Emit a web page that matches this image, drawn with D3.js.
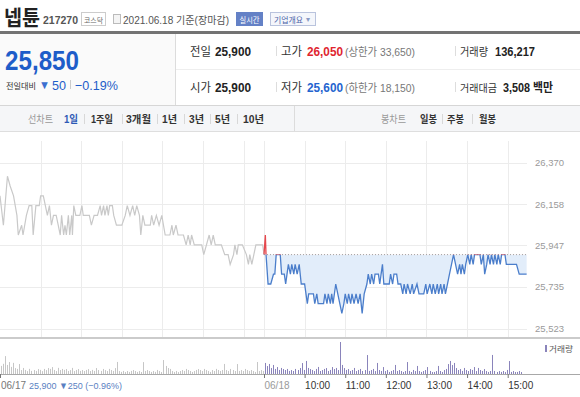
<!DOCTYPE html>
<html><head><meta charset="utf-8">
<script src="https://cdn.jsdelivr.net/npm/d3@7"></script>
<style>
html,body{margin:0;padding:0;background:#fff;}
svg{display:block;font-family:"Liberation Sans","Noto Sans CJK KR",sans-serif;}
</style></head><body>
<svg id="c" width="580" height="397"></svg>
<script>
// ---------- data ----------
const refPrice = 25900;                       // 06/17 close (기준가)
const yTicks = [25523, 25735, 25947, 26158, 26370];
const gridMinutes = [60,120,180,240,300,360,390,450,510,570,630,690,750]; // minutes since 06/17 09:00
const timeTicks = [0,390,450,510,570,630,690,750];
const timeLabels = ["","06/18","10:00","11:00","12:00","13:00","14:00","15:00"];
const sessionLength = 390;

// 06/17 (minutes after 09:00, price)
const prevMinute = [0,5,11,15,20,25,27,32,34,39,43,47,49,53,58,60,64,67,70,73,76,79,83,86,89,91,94,96,98,101,103,106,107,109,112,118,121,123,132,135,139,144,148,150,153,155,158,160,162,166,168,172,180,185,188,192,196,199,202,206,208,211,214,222,224,227,231,235,239,244,251,254,256,260,263,271,275,278,281,283,287,298,301,305,309,312,315,318,327,332,337,340,345,347,350,352,358,364,367,369,372,375,378,388,390];
const prevPrice = [26200,26050,26300,26250,26200,26100,26000,26050,26000,26100,26150,26150,26000,26150,26150,26200,26200,26150,26100,26150,26050,26100,26100,26050,26000,26100,26000,26050,26000,26100,26000,26100,26000,26150,26100,26100,26150,26100,26100,26050,26100,26100,26150,26100,26150,26100,26150,26100,26150,26150,26100,26050,26050,26100,26150,26100,26150,26100,26150,26100,26000,26100,26050,26050,26100,26050,26100,26050,26100,26000,26000,26050,26000,26050,26000,26000,25950,26000,25950,26000,25950,25950,25900,25950,26000,25950,26000,25950,25950,25900,25900,25850,25900,25950,25900,25950,25950,25900,25850,25900,25850,25900,25950,25950,25900];

// 06/18 (minutes after 09:00, price)
const todayMinute = [0,2,3,6,10,14,16,18,24,26,30,32,34,36,39,41,44,46,49,52,55,60,64,66,73,75,78,80,88,90,93,95,98,100,102,106,109,112,115,118,120,123,125,128,130,133,136,139,142,145,148,152,154,157,159,162,164,169,171,173,175,177,185,187,190,192,196,198,202,205,207,210,212,216,219,221,226,229,236,239,241,245,248,250,253,256,258,261,263,266,268,271,274,277,280,283,286,289,291,293,296,298,301,304,306,309,311,319,321,324,326,329,331,334,336,339,341,344,346,349,351,356,358,373,377,388];
const todayPrice = [25900,26000,25900,25750,25750,25800,25800,25900,25900,25800,25800,25750,25800,25850,25800,25850,25800,25850,25800,25850,25750,25750,25650,25700,25700,25650,25700,25650,25650,25700,25650,25700,25650,25700,25650,25750,25700,25650,25600,25650,25700,25650,25700,25650,25700,25650,25700,25650,25700,25600,25700,25750,25800,25750,25800,25750,25800,25800,25750,25800,25850,25750,25750,25800,25750,25800,25800,25750,25750,25700,25750,25700,25750,25700,25750,25700,25750,25700,25700,25750,25700,25750,25700,25750,25700,25750,25700,25750,25700,25750,25700,25750,25800,25850,25900,25850,25800,25850,25800,25850,25800,25850,25900,25850,25900,25850,25900,25900,25850,25900,25800,25850,25900,25850,25900,25850,25900,25850,25900,25850,25900,25900,25850,25850,25800,25800];

// volume per 3-minute bucket (shares)
const prevVolume = [1620,2040,3580,1810,2390,1420,2230,1180,1020,1990,790,1210,
 810,580,1030,620,790,610,990,820,570,
 1010,780,1190,1020,1380,810,590,1230,790,1010,
 820,990,610,780,1220,590,810,1000,620,790,
 600,810,980,590,820,610,1190,790,620,1010,
 780,600,1020,790,610,1180,
 2410,
 590,420,610,390,600,410,620,790,600,410,590,400,
 2380,
 610,790,600,410,590,420,810,600,390,
 2790,
 1610,1190,1010,590,
 410,610,390,600,790,610,1010,790,600,410,590,810,990,
 800,590,1010,790,610,410,790,600,1020,800,610,790,
 2010,
 790,610,1010,800,600,
 1990,
 610,790,600,1010,790,610,800,590,410,
 2400,
 600,790,610];
const todayVolume = [2210,1590,2010,1190,1810,1010,1390,810,1210,990,
 800,1010,610,790,600,1010,800,1190,
 2190,810,2610,
 1210,990,810,590,1010,1410,600,790,1010,1190,610,810,1390,990,1210,790,
 6400,1810,
 1190,810,990,610,800,1210,590,810,1010,600,790,
 3790,
 610,790,1010,590,
 2210,
 800,610,1390,
 590,810,410,610,790,
 1810,
 610,790,590,410,600,
 2390,
 610,400,810,590,
 1610,
 600,410,590,790,
 1390,
 610,390,410,590,
 1610,
 600,410,790,1010,
 1990,2610,1790,2210,1190,
 800,990,610,1210,790,600,
 990,810,1390,590,1210,800,
 610,990,
 590,410,600,
 3810,
 610,400,590,410,600,390,810,
 2590,
 410,590,400,410,600,390,
 0,0,0];

// ---------- drawing ----------
const svg = d3.select("#c");
const W = 580;
const BLUE = "#1e5dc9", RED = "#e0262f";

function text(x, y, s, o = {}) {
  const t = svg.append("text").attr("x", x).attr("y", y).text(s)
    .attr("font-size", o.size || 12).attr("fill", o.fill || "#333")
    .attr("font-weight", o.bold ? "bold" : "normal");
  if (o.anchor) t.attr("text-anchor", o.anchor);
  if (o.len) t.attr("textLength", o.len).attr("lengthAdjust", "spacingAndGlyphs");
  return t;
}

// Title row
text(4, 25, "넵튠", {size: 21, bold: true, fill: "#222", len: 36});
text(43, 24, "217270", {size: 11.5, bold: true, fill: "#555", len: 35});
svg.append("rect").attr("x", 81.5).attr("y", 12.5).attr("width", 24).attr("height", 13).attr("fill", "#fff").attr("stroke", "#ccc");
text(93.5, 22.5, "코스닥", {size: 7, fill: "#666", anchor: "middle", len: 19});
svg.append("rect").attr("x", 113.5).attr("y", 14.5).attr("width", 7).attr("height", 9).attr("fill", "#f4f4f4").attr("stroke", "#bbb");
text(123, 24, "2021.06.18 기준(장마감)", {size: 10, fill: "#555", len: 106});
svg.append("rect").attr("x", 236).attr("y", 12).attr("width", 27).attr("height", 14).attr("fill", "#6481c6");
text(249.5, 22.5, "실시간", {size: 8, fill: "#fff", anchor: "middle", len: 20});
svg.append("rect").attr("x", 270.5).attr("y", 12.5).attr("width", 45).attr("height", 13).attr("fill", "#f4f6fb").attr("stroke", "#b9c3dd");
text(274, 22.5, "기업개요", {size: 8, fill: "#4c64a8", len: 29});
text(306, 22, "▾", {size: 8, fill: "#8a9ac4"});
svg.append("rect").attr("x", 0).attr("y", 31).attr("width", W).attr("height", 3).attr("fill", "#737373");

// Price summary
svg.append("rect").attr("x", 0).attr("y", 34).attr("width", 175).attr("height", 71).attr("fill", "#fafafa");
svg.append("line").attr("x1", 175.5).attr("x2", 175.5).attr("y1", 34).attr("y2", 105).attr("stroke", "#dcdcdc");
svg.append("line").attr("x1", 176).attr("x2", W).attr("y1", 69.5).attr("y2", 69.5).attr("stroke", "#eeeeee");
svg.append("line").attr("x1", 0).attr("x2", W).attr("y1", 105.5).attr("y2", 105.5).attr("stroke", "#d6d6d6");
text(5, 70, "25,850", {size: 27, bold: true, fill: BLUE, len: 74});
text(6, 89, "전일대비", {size: 7.5, fill: "#333", len: 30});
text(39, 89, "▼", {size: 12, fill: "#3b6fd0", len: 11});
text(52, 89.5, "50", {size: 13.5, fill: BLUE, len: 14});
svg.append("line").attr("x1", 70.5).attr("x2", 70.5).attr("y1", 80).attr("y2", 89).attr("stroke", "#ccc");
text(75, 89.5, "−0.19%", {size: 13.5, fill: BLUE, len: 43});

function infoRow(y, items) {
  items.forEach(it => text(it[0], y, it[1], it[2]));
}
infoRow(56, [
  [190, "전일", {size: 12, fill: "#333", len: 21}],
  [215, "25,900", {size: 12.5, bold: true, fill: "#222", len: 36}],
  [281, "고가", {size: 12, fill: "#333", len: 21}],
  [307, "26,050", {size: 12.5, bold: true, fill: RED, len: 36}],
  [345, "(상한가 33,650)", {size: 11, fill: "#777", len: 70}],
  [460, "거래량", {size: 11, fill: "#333", len: 28}],
  [495, "136,217", {size: 12.5, bold: true, fill: "#222", len: 40}]
]);
infoRow(92, [
  [190, "시가", {size: 12, fill: "#333", len: 21}],
  [215, "25,900", {size: 12.5, bold: true, fill: "#222", len: 36}],
  [281, "저가", {size: 12, fill: "#333", len: 21}],
  [307, "25,600", {size: 12.5, bold: true, fill: "#2464cf", len: 36}],
  [345, "(하한가 18,150)", {size: 11, fill: "#777", len: 70}],
  [460, "거래대금", {size: 10, fill: "#333", len: 37}],
  [503, "3,508 백만", {size: 12, bold: true, fill: "#222", len: 50}]
]);
[[276.5, 46, 56], [455.5, 46, 56], [276.5, 82, 92], [455.5, 82, 92]].forEach(s =>
  svg.append("line").attr("x1", s[0]).attr("x2", s[0]).attr("y1", s[1]).attr("y2", s[2]).attr("stroke", "#ddd"));

// Tabs row
svg.append("rect").attr("x", 0).attr("y", 106).attr("width", W).attr("height", 25).attr("fill", "#f5f6f8");
svg.append("line").attr("x1", 0).attr("x2", W).attr("y1", 131.5).attr("y2", 131.5).attr("stroke", "#dedede");
svg.append("line").attr("x1", 294.5).attr("x2", 294.5).attr("y1", 106).attr("y2", 131).attr("stroke", "#dcdcdc");
const tabs = [[28, "선차트", "#999", false, 25], [64, "1일", "#2d59b5", true, 14], [91, "1주일", "#333", true, 22], [126, "3개월", "#333", true, 25],
  [162, "1년", "#333", true, 15], [189, "3년", "#333", true, 15], [215, "5년", "#333", true, 15], [243, "10년", "#333", true, 21],
  [381, "봉차트", "#999", false, 25], [420, "일봉", "#333", true, 17], [447, "주봉", "#333", true, 17], [479, "월봉", "#333", true, 17]];
tabs.forEach(t => text(t[0], 123, t[1], {size: 10.5, fill: t[2], bold: t[3], len: t[4]}));
[84, 122, 157, 184, 210, 237, 442, 472].forEach(sx =>
  svg.append("line").attr("x1", sx + 0.5).attr("x2", sx + 0.5).attr("y1", 114).attr("y2", 124).attr("stroke", "#d8d8d8"));

// Scales
const x = d3.scaleLinear().domain([0, 2 * sessionLength]).range([0, 528]);
const y = d3.scaleLinear().domain([25523, 26370]).range([328.5, 162.5]);
const yRef = y(refPrice);
const plotBottom = 337;

// grid
svg.append("g").selectAll("line").data(yTicks).join("line")
  .attr("x1", 0).attr("x2", 527).attr("y1", d => Math.round(y(d)) + 0.5).attr("y2", d => Math.round(y(d)) + 0.5)
  .attr("stroke", "#ececec");
svg.append("g").selectAll("line").data(gridMinutes).join("line")
  .attr("x1", d => Math.round(x(d)) + 0.5).attr("x2", d => Math.round(x(d)) + 0.5)
  .attr("y1", 141).attr("y2", plotBottom).attr("stroke", "#ececec");

// y axis labels
const yAxis = svg.append("g").attr("transform", "translate(535,0)")
  .call(d3.axisRight(y).tickValues(yTicks).tickFormat(d3.format(",")).tickSize(0).tickPadding(0));
yAxis.select(".domain").remove();
yAxis.selectAll("text").attr("font-size", 9.5).attr("fill", "#9a9a9a").attr("font-family", null);

// price lines
const prevData = prevMinute.map((m, i) => ({t: m, p: prevPrice[i]}));
const todayData = todayMinute.map((m, i) => ({t: sessionLength + m, p: todayPrice[i]}));
const line = d3.line().x(d => x(d.t)).y(d => y(d.p));
const area = d3.area().x(d => x(d.t)).y0(yRef).y1(d => y(d.p));

svg.append("path").datum(prevData).attr("d", line).attr("fill", "none").attr("stroke", "#c9c9c9").attr("stroke-width", 1.2);

const defs = svg.append("defs");
defs.append("clipPath").attr("id", "below").append("rect").attr("x", 0).attr("y", yRef).attr("width", W).attr("height", 200);
defs.append("clipPath").attr("id", "above").append("rect").attr("x", 0).attr("y", 0).attr("width", W).attr("height", yRef);

svg.append("path").datum(todayData).attr("d", area).attr("fill", "#e2edfa").attr("clip-path", "url(#below)");
svg.append("path").datum(todayData).attr("d", area).attr("fill", "#fbe3e3").attr("clip-path", "url(#above)");
svg.append("line").attr("x1", x(sessionLength)).attr("x2", x(2 * sessionLength)).attr("y1", yRef).attr("y2", yRef)
  .attr("stroke", "#a0a0a0").attr("stroke-dasharray", "1,2");
svg.append("path").datum(todayData).attr("d", line).attr("fill", "none").attr("stroke", "#4b7ecb").attr("stroke-width", 1.3)
  .attr("clip-path", "url(#below)");
svg.append("path").datum(todayData).attr("d", line).attr("fill", "none").attr("stroke", "#e5484d").attr("stroke-width", 1.3)
  .attr("clip-path", "url(#above)");

// separator between price and volume
svg.append("rect").attr("x", 0).attr("y", plotBottom).attr("width", W).attr("height", 2).attr("fill", "#cbcbcb");

// volume
const vBase = 374;
const v = d3.scaleLinear().domain([0, d3.max(prevVolume.concat(todayVolume))]).range([vBase, 342]);
const volData = prevVolume.map((q, i) => ({t: 3 * i + 1.5, q, c: "#c6c6c6"}))
  .concat(todayVolume.map((q, i) => ({t: sessionLength + 3 * i + 1.5, q, c: "#8a84bb"})));
svg.append("g").selectAll("rect").data(volData.filter(d => d.q > 0)).join("rect")
  .attr("x", d => Math.round(x(d.t))).attr("width", 1)
  .attr("y", d => v(d.q)).attr("height", d => vBase - v(d.q)).attr("fill", d => d.c);
svg.append("rect").attr("x", 545).attr("y", 345).attr("width", 2).attr("height", 7).attr("fill", "#8a84bb");
text(549, 352, "거래량", {size: 8, fill: "#555", len: 24});

// time axis
const xAxis = svg.append("g").attr("transform", `translate(0,${vBase})`)
  .call(d3.axisBottom(x).tickValues(timeTicks).tickFormat((d, i) => timeLabels[i]).tickSize(4).tickPadding(4));
xAxis.select(".domain").attr("d", `M0,0.5H${W}`).attr("stroke", "#a8a8a8");
xAxis.selectAll(".tick line").attr("stroke", "#777");
xAxis.selectAll("text").attr("text-anchor", "start").attr("x", 0).attr("font-size", 10).attr("font-family", null)
  .attr("fill", (d, i) => i === 1 ? "#9a9a9a" : "#333");

text(1, 389, "06/17", {size: 10, fill: "#777", len: 25});
text(29, 389, "25,900 ▼250 (−0.96%)", {size: 9.5, fill: "#5a7fc2", len: 93});
</script></body></html>
